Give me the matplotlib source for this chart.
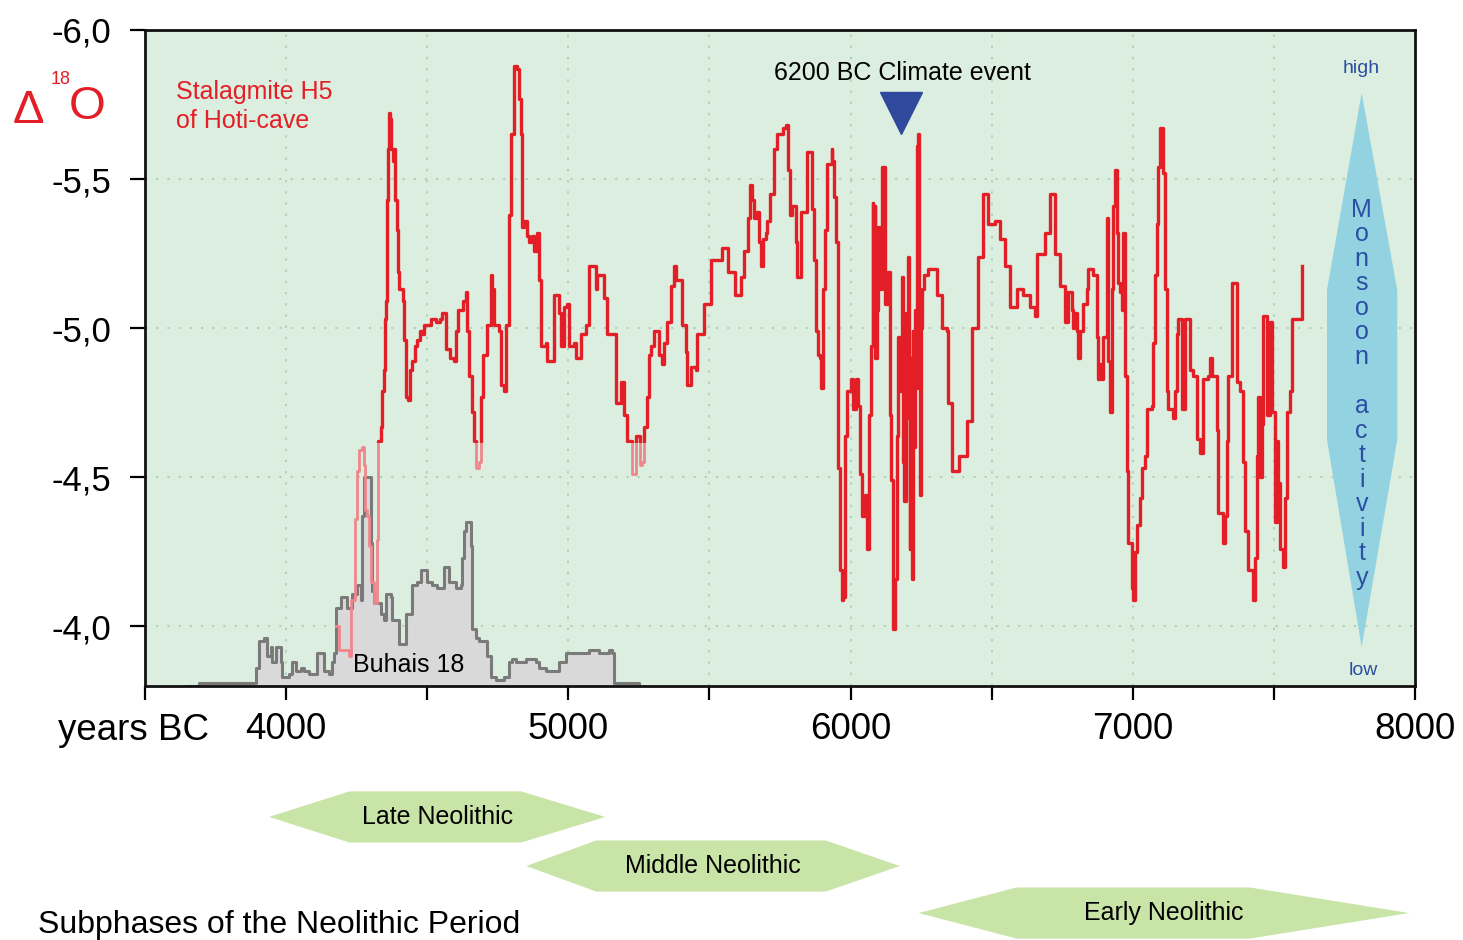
import numpy as np
import matplotlib.pyplot as plt
from matplotlib.patches import Polygon, Rectangle
from matplotlib.transforms import blended_transform_factory

plt.rcParams['font.family'] = ['Liberation Sans', 'DejaVu Sans']

# stalagmite H5 (Hoti cave): years BC / delta 18O
years_h5 = [4177, 4188, 4223, 4230, 4245, 4252, 4259, 4270, 4277, 4280, 4287, 4294, 4301, 4312, 4319, 4323,
            4326, 4337, 4340, 4348, 4351, 4355, 4358, 4362, 4365, 4369, 4372, 4379, 4383, 4387, 4394, 4397,
            4401, 4411, 4415, 4418, 4426, 4433, 4440, 4447, 4457, 4465, 4475, 4482, 4489, 4514, 4532, 4546,
            4553, 4567, 4582, 4596, 4603, 4610, 4621, 4628, 4638, 4642, 4649, 4660, 4667, 4674, 4684, 4691,
            4699, 4713, 4727, 4730, 4738, 4755, 4762, 4773, 4780, 4791, 4798, 4808, 4819, 4826, 4833, 4835,
            4844, 4855, 4862, 4872, 4879, 4890, 4897, 4904, 4922, 4926, 4943, 4950, 4961, 4968, 4975, 4986,
            4996, 5004, 5021, 5028, 5039, 5046, 5064, 5074, 5092, 5099, 5103, 5121, 5128, 5138, 5163, 5170,
            5181, 5188, 5191, 5199, 5209, 5223, 5227, 5237, 5241, 5252, 5255, 5262, 5269, 5277, 5287, 5294,
            5305, 5316, 5323, 5333, 5340, 5351, 5365, 5376, 5383, 5401, 5404, 5418, 5422, 5429, 5436, 5454,
            5457, 5475, 5482, 5500, 5507, 5543, 5546, 5560, 5564, 5582, 5589, 5606, 5613, 5624, 5635, 5642,
            5652, 5659, 5670, 5677, 5684, 5688, 5702, 5705, 5713, 5723, 5730, 5741, 5759, 5773, 5777, 5784,
            5791, 5801, 5808, 5812, 5819, 5826, 5844, 5847, 5862, 5865, 5872, 5879, 5883, 5890, 5897, 5901,
            5908, 5915, 5918, 5933, 5936, 5943, 5950, 5954, 5961, 5968, 5972, 5979, 5986, 5989, 6003, 6007,
            6021, 6025, 6032, 6042, 6050, 6057, 6060, 6067, 6074, 6078, 6081, 6085, 6088, 6092, 6096, 6103,
            6110, 6113, 6121, 6131, 6138, 6145, 6149, 6156, 6163, 6167, 6174, 6181, 6186, 6191, 6195, 6199,
            6202, 6206, 6209, 6212, 6216, 6220, 6223, 6227, 6231, 6234, 6238, 6242, 6245, 6248, 6252, 6262,
            6273, 6291, 6305, 6308, 6323, 6340, 6344, 6358, 6361, 6379, 6386, 6404, 6411, 6422, 6429, 6447,
            6450, 6464, 6468, 6482, 6486, 6503, 6511, 6521, 6528, 6539, 6546, 6564, 6566, 6582, 6589, 6606,
            6610, 6628, 6635, 6652, 6660, 6677, 6688, 6706, 6716, 6723, 6734, 6741, 6757, 6759, 6767, 6769,
            6784, 6787, 6794, 6801, 6805, 6812, 6823, 6837, 6840, 6855, 6858, 6871, 6872, 6876, 6883, 6890,
            6894, 6908, 6911, 6918, 6925, 6929, 6936, 6943, 6947, 6954, 6961, 6964, 6972, 6979, 6982, 6996,
            7000, 7007, 7014, 7025, 7032, 7042, 7050, 7067, 7071, 7078, 7085, 7089, 7096, 7106, 7108, 7113,
            7120, 7121, 7124, 7142, 7149, 7156, 7160, 7174, 7184, 7202, 7213, 7227, 7237, 7248, 7266, 7273,
            7280, 7298, 7301, 7319, 7326, 7333, 7337, 7351, 7358, 7369, 7379, 7390, 7397, 7408, 7425, 7432,
            7440, 7443, 7450, 7457, 7461, 7475, 7486, 7493, 7503, 7511, 7514, 7521, 7532, 7539, 7546, 7557,
            7564, 7592, 7599]
d18o_h5 = [-4.00, -3.92, -3.90, -4.09, -4.36, -4.52, -4.59, -4.60, -4.54, -4.39, -4.37, -4.27, -4.15, -4.08, -4.08, -4.29,
           -4.62, -4.67, -4.79, -4.86, -5.03, -5.09, -5.43, -5.60, -5.72, -5.70, -5.60, -5.56, -5.60, -5.43, -5.33, -5.19,
           -5.13, -5.13, -5.09, -4.96, -4.77, -4.76, -4.86, -4.89, -4.94, -4.96, -4.99, -4.98, -5.01, -5.03, -5.02, -5.03,
           -5.05, -4.93, -4.90, -4.89, -4.99, -5.06, -5.06, -5.09, -5.12, -4.99, -4.84, -4.72, -4.62, -4.53, -4.55, -4.77,
           -4.91, -5.01, -5.18, -5.13, -5.01, -4.99, -4.81, -4.79, -5.01, -5.38, -5.65, -5.88, -5.87, -5.77, -5.65, -5.34,
           -5.36, -5.31, -5.29, -5.31, -5.26, -5.32, -5.16, -4.94, -4.95, -4.89, -4.89, -5.11, -5.11, -5.05, -4.94, -5.07,
           -5.08, -4.94, -4.95, -4.90, -4.90, -4.98, -5.01, -5.21, -5.21, -5.13, -5.18, -5.18, -5.10, -4.98, -4.98, -4.75,
           -4.75, -4.82, -4.82, -4.71, -4.62, -4.62, -4.51, -4.51, -4.64, -4.64, -4.54, -4.55, -4.67, -4.77, -4.91, -4.94,
           -4.99, -4.99, -4.91, -4.88, -4.95, -5.02, -5.14, -5.21, -5.16, -5.14, -5.01, -4.92, -4.81, -4.81, -4.87, -4.86,
           -4.98, -4.98, -5.08, -5.08, -5.23, -5.23, -5.27, -5.27, -5.19, -5.19, -5.11, -5.11, -5.17, -5.26, -5.37, -5.48,
           -5.43, -5.37, -5.39, -5.29, -5.21, -5.30, -5.32, -5.36, -5.45, -5.45, -5.60, -5.65, -5.67, -5.68, -5.53, -5.38,
           -5.41, -5.41, -5.29, -5.17, -5.17, -5.39, -5.40, -5.59, -5.59, -5.40, -5.23, -4.99, -4.91, -4.90, -4.80, -5.13,
           -5.33, -5.36, -5.55, -5.60, -5.56, -5.44, -5.29, -4.53, -4.19, -4.09, -4.10, -4.64, -4.67, -4.79, -4.83, -4.73,
           -4.83, -4.74, -4.51, -4.37, -4.44, -4.30, -4.26, -4.71, -4.94, -5.42, -4.95, -5.41, -4.90, -5.06, -5.34, -5.13,
           -5.34, -5.54, -5.08, -5.19, -4.71, -4.49, -3.99, -4.16, -4.64, -4.97, -4.79, -5.17, -4.55, -4.42, -5.05, -4.99,
           -5.24, -4.70, -4.26, -4.90, -4.16, -4.99, -4.60, -5.06, -4.80, -5.61, -5.65, -4.90, -4.44, -5.00, -5.13, -5.18,
           -5.20, -5.20, -5.18, -5.11, -5.00, -4.99, -4.75, -4.67, -4.52, -4.52, -4.57, -4.57, -4.69, -4.69, -5.00, -5.00,
           -5.24, -5.24, -5.45, -5.45, -5.35, -5.35, -5.36, -5.36, -5.30, -5.30, -5.21, -5.21, -5.07, -5.07, -5.13, -5.13,
           -5.11, -5.11, -5.07, -5.04, -5.25, -5.25, -5.32, -5.45, -5.45, -5.25, -5.25, -5.14, -5.14, -5.02, -5.02, -5.12,
           -5.06, -5.00, -5.05, -4.99, -4.90, -4.99, -5.08, -5.13, -5.20, -5.20, -5.18, -5.18, -4.97, -4.83, -4.88, -4.83,
           -4.97, -5.37, -4.89, -4.72, -5.13, -5.41, -5.53, -5.32, -5.15, -5.12, -5.06, -5.32, -4.84, -4.52, -4.28, -4.13,
           -4.09, -4.25, -4.34, -4.43, -4.53, -4.57, -4.73, -4.74, -4.95, -5.18, -5.35, -5.54, -5.67, -5.67, -5.52, -5.13,
           -4.99, -4.79, -4.73, -4.70, -4.79, -4.98, -5.03, -4.73, -5.03, -4.86, -4.84, -4.63, -4.58, -4.83, -4.84, -4.90,
           -4.84, -4.66, -4.38, -4.28, -4.37, -4.62, -4.84, -5.15, -5.15, -4.82, -4.79, -4.55, -4.32, -4.19, -4.09, -4.23,
           -4.57, -4.77, -4.50, -4.68, -5.04, -4.71, -5.02, -4.72, -4.35, -4.62, -4.48, -4.26, -4.20, -4.43, -4.72, -4.79,
           -5.03, -5.03, -5.21]

# Buhais 18 curve (grey area)
years_buhais = [3650, 3692, 3762, 3879, 3894, 3904, 3922, 3933, 3947, 3950, 3965, 3982, 3986, 4011, 4021, 4035,
                4053, 4064, 4082, 4099, 4110, 4124, 4135, 4152, 4163, 4170, 4177, 4195, 4206, 4216, 4234, 4252,
                4266, 4270, 4277, 4294, 4301, 4305, 4312, 4330, 4337, 4348, 4355, 4372, 4376, 4394, 4401, 4418,
                4426, 4436, 4447, 4465, 4479, 4496, 4500, 4518, 4535, 4550, 4560, 4571, 4578, 4603, 4621, 4624,
                4631, 4638, 4649, 4656, 4660, 4674, 4684, 4702, 4713, 4727, 4745, 4773, 4791, 4801, 4816, 4851,
                4887, 4897, 4922, 4940, 4968, 4993, 5014, 5039, 5074, 5110, 5145, 5156, 5163, 5181, 5252]
val_buhais = [-3.80, -3.81, -3.81, -3.81, -3.86, -3.95, -3.96, -3.90, -3.93, -3.88, -3.93, -3.88, -3.83, -3.84, -3.88, -3.85,
              -3.86, -3.85, -3.84, -3.84, -3.91, -3.91, -3.85, -3.84, -3.88, -3.91, -4.06, -4.10, -4.10, -4.06, -4.11, -4.14,
              -4.09, -4.37, -4.50, -4.50, -4.28, -4.12, -4.08, -4.08, -4.04, -4.02, -4.11, -4.10, -4.02, -4.02, -3.94, -3.94,
              -4.04, -4.04, -4.14, -4.15, -4.19, -4.19, -4.15, -4.14, -4.13, -4.13, -4.20, -4.20, -4.15, -4.13, -4.14, -4.23,
              -4.32, -4.35, -4.35, -4.27, -3.99, -3.96, -3.95, -3.95, -3.90, -3.83, -3.82, -3.83, -3.88, -3.89, -3.88, -3.89,
              -3.88, -3.86, -3.85, -3.85, -3.88, -3.91, -3.91, -3.91, -3.92, -3.91, -3.92, -3.91, -3.81, -3.81, -3.80]

x_ticks = list(range(3500, 8001, 500))
x_labels = ['' if t % 1000 else str(t) for t in x_ticks]
y_ticks = [-6.0, -5.5, -5.0, -4.5, -4.0]
y_labels = ['-6,0', '-5,5', '-5,0', '-4,5', '-4,0']

phase_names = ['Late Neolithic', 'Middle Neolithic', 'Early Neolithic']
phase_start = [3940, 4851, 6241]
phase_end = [5131, 6174, 7979]
phase_taper_l = [284, 248, 348]
phase_taper_r = [298, 262, 564]
phase_yfig = [0.1309, 0.0787, 0.0287]

event_year = 6180
event_label = '6200 BC Climate event'
monsoon_word = 'Monsoon activity'

RED = '#e41e26'
BLUE = '#2b4fa3'

fig = plt.figure(figsize=(14.63, 9.40), dpi=100)
ax = fig.add_axes([0.0991, 0.2702, 0.8681, 0.6979])
ax.set_facecolor('#dbeedf')
ax.set_xlim(3500, 8000)
ax.set_ylim(-3.8, -6.0)

ax.set_xticks(x_ticks)
ax.set_xticklabels(x_labels, fontsize=26.5)
ax.set_yticks(y_ticks)
ax.set_yticklabels(y_labels, fontsize=25)
ax.tick_params(axis='x', direction='out', length=10, width=1.6, pad=9)
ax.tick_params(axis='y', direction='out', length=11, width=1.6, pad=13)
ax.grid(True, color='#a9cfb3', linestyle=(0, (1.2, 5)), linewidth=1.3)
ax.set_axisbelow(True)
for s in ax.spines.values():
    s.set_linewidth(2)
    s.set_color('#111111')

# Buhais 18
ax.fill_between(years_buhais, val_buhais, -3.8, step='post', color='#d9d9d9', zorder=2, lw=0)
ax.plot(years_buhais, val_buhais, drawstyle='steps-post', color='#7a7a7a', lw=2.2, zorder=2.5)

# H5 curve: lower left part looks faded
thr = -4.615
clip_red = Polygon([(3500, -6.0), (8000, -6.0), (8000, -3.8), (5350, -3.8), (5350, thr), (3500, thr)],
                   closed=True, transform=ax.transData)
line_red, = ax.plot(years_h5, d18o_h5, drawstyle='steps-post', color=RED, lw=2.4, zorder=4)
line_red.set_clip_path(clip_red)
clip_pink = Rectangle((3500, thr), 1850, -3.8 - thr, transform=ax.transData)
line_pink, = ax.plot(years_h5, d18o_h5, drawstyle='steps-post', color='#f0868c', lw=2.0, zorder=4)
line_pink.set_clip_path(clip_pink)

ax.text(4436, -3.87, 'Buhais 18', fontsize=18, ha='center', va='center', zorder=5)
ax.text(0.0244, 0.9055, 'Stalagmite H5', transform=ax.transAxes, color=RED, fontsize=18, va='center')
ax.text(0.0244, 0.861, 'of Hoti-cave', transform=ax.transAxes, color=RED, fontsize=18, va='center')

# climate event marker
ax.plot([event_year], [-5.72], marker='v', ms=30, color='#2f4a9c', zorder=5)
ax.text(event_year + 4, -5.855, event_label, fontsize=18, ha='center', va='center')

# monsoon activity arrow
hexa = Polygon([(0.958, 0.904), (0.986, 0.604), (0.986, 0.375), (0.958, 0.0595), (0.9307, 0.375), (0.9307, 0.604)],
               closed=True, transform=ax.transAxes, facecolor='#93d3e1', edgecolor='none', zorder=3)
ax.add_patch(hexa)
for i, ch in enumerate(monsoon_word):
    yy = (686 - (210 + i * 24.5)) / 656
    ax.text(0.958, yy, ch, transform=ax.transAxes, color=BLUE, fontsize=18, ha='center', va='center', zorder=5)
ax.text(0.958, 0.942, 'high', transform=ax.transAxes, color=BLUE, fontsize=14, ha='center', va='center')
ax.text(0.959, 0.024, 'low', transform=ax.transAxes, color=BLUE, fontsize=14, ha='center', va='center')

# delta 18O label
fig.text(0.0195, 0.882, '\u0394', color=RED, fontsize=34, ha='center', va='center')
fig.text(0.0417, 0.915, '18', color=RED, fontsize=13, ha='center', va='center')
fig.text(0.0595, 0.886, 'O', color=RED, fontsize=34, ha='center', va='center')

fig.text(0.0396, 0.2234, 'years BC', fontsize=26.5, ha='left', va='center')

# Neolithic subphases
trans = blended_transform_factory(ax.transData, fig.transFigure)
hh = 0.0272
for name, a, b, tl, tr, yc in zip(phase_names, phase_start, phase_end, phase_taper_l, phase_taper_r, phase_yfig):
    pts = [(a, yc), (a + tl, yc + hh), (b - tr, yc + hh), (b, yc), (b - tr, yc - hh), (a + tl, yc - hh)]
    p = Polygon(pts, closed=True, transform=trans, facecolor='#c9e4a7', edgecolor='none', clip_on=False)
    fig.patches.append(p)
    fig.text((a + b) / 2, yc, name, transform=trans, fontsize=18, ha='center', va='center')

fig.text(0.026, 0.016, 'Subphases of the Neolithic Period', fontsize=23, ha='left', va='center')

fig.savefig('out.png', dpi=100)
